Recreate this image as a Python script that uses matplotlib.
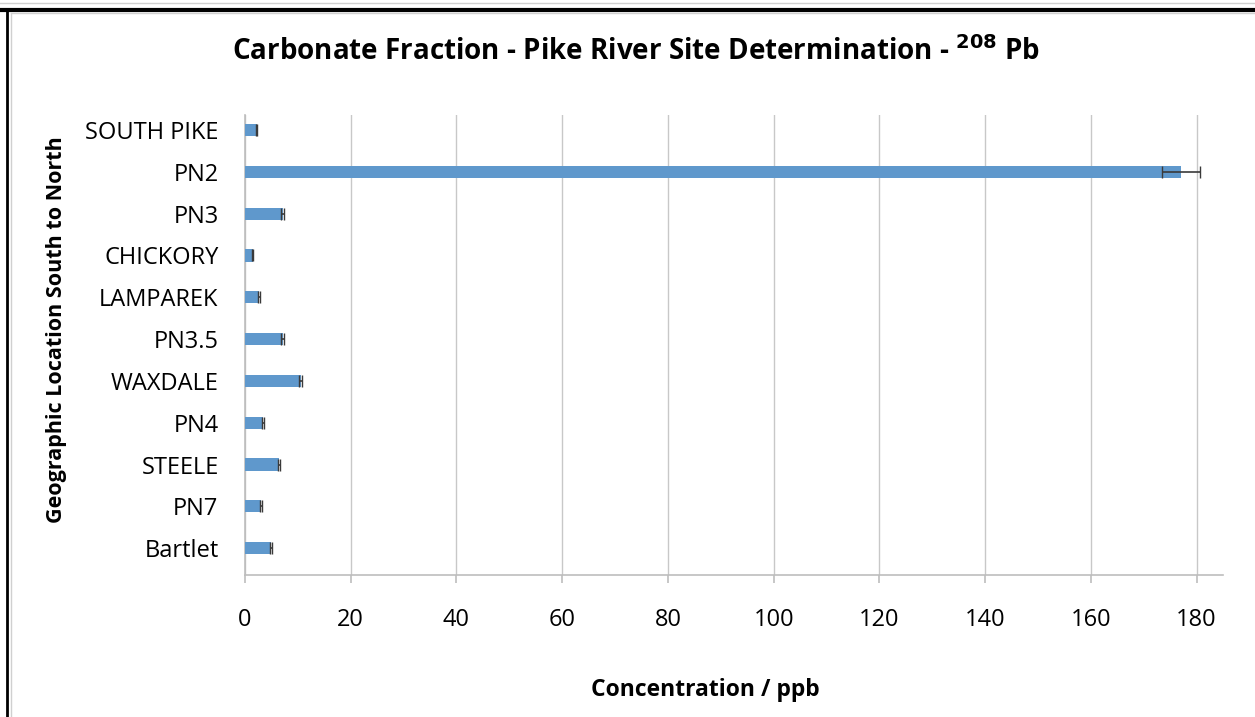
import matplotlib.pyplot as plt
from matplotlib.lines import Line2D

plt.rcParams['font.family'] = ['Open Sans', 'DejaVu Sans']

sites = ['SOUTH PIKE', 'PN2', 'PN3', 'CHICKORY', 'LAMPAREK', 'PN3.5',
         'WAXDALE', 'PN4', 'STEELE', 'PN7', 'Bartlet']
conc = [2.2, 177.0, 7.1, 1.45, 2.7, 7.1, 10.5, 3.4, 6.4, 3.0, 5.0]
err = [0.15, 3.6, 0.2, 0.1, 0.15, 0.25, 0.35, 0.15, 0.2, 0.15, 0.2]

W, H = 1255, 717
fig = plt.figure(figsize=(W / 100, H / 100), dpi=100)
ax = fig.add_axes([245 / W, 1 - 574.5 / H, (1223 - 245) / W, (574.5 - 115) / H])

ypos = list(range(len(sites)))
ax.barh(ypos, conc, height=0.29, color='#5f98cc', zorder=3)
ax.errorbar(conc, ypos, xerr=err, fmt='none', ecolor='#3a3a3a', elinewidth=1.2,
            capsize=4.5, capthick=1, zorder=4)

ax.set_xlim(0, 185)
ax.set_ylim(10.63, -0.36)
ax.set_xticks(range(0, 181, 20))
ax.set_yticks(ypos)
ax.set_yticklabels(sites)

ax.grid(axis='x', color='#c8c8c8', linewidth=1, zorder=0)
for s in ['top', 'right']:
    ax.spines[s].set_visible(False)
for s in ['left', 'bottom']:
    ax.spines[s].set_color('#bdbdbd')
    ax.spines[s].set_linewidth(1.2)
ax.tick_params(axis='x', length=6, width=1.2, color='#bdbdbd', labelsize=17, pad=18)
ax.tick_params(axis='y', length=0, labelsize=17, pad=19)

fig.text(57 / W, 1 - 330 / H, 'Geographic Location South to North', rotation=90,
         ha='center', va='center', fontsize=15.5, fontweight='bold')
fig.text(705 / W, 1 - 690 / H, 'Concentration / ppb',
         ha='center', va='center', fontsize=16.5, fontweight='bold')
fig.text(636 / W, 1 - 52 / H,
         r'Carbonate Fraction - Pike River Site Determination - $^{\mathbf{208}}$ Pb',
         ha='center', va='center', fontsize=20, fontweight='bold')

# page frame lines
fig.add_artist(Line2D([0, 1], [1 - 3 / H] * 2, color='#d0d0d0', lw=1))
fig.add_artist(Line2D([0, 1], [1 - 9.5 / H] * 2, color='black', lw=3))
fig.add_artist(Line2D([7 / W] * 2, [0, 1 - 9.5 / H], color='black', lw=2))
fig.add_artist(Line2D([11 / W, 1], [1 - 13 / H] * 2, color='#d0d0d0', lw=1))
fig.add_artist(Line2D([11 / W] * 2, [0, 1 - 13 / H], color='#d0d0d0', lw=1))

fig.savefig('out.png', dpi=100)
